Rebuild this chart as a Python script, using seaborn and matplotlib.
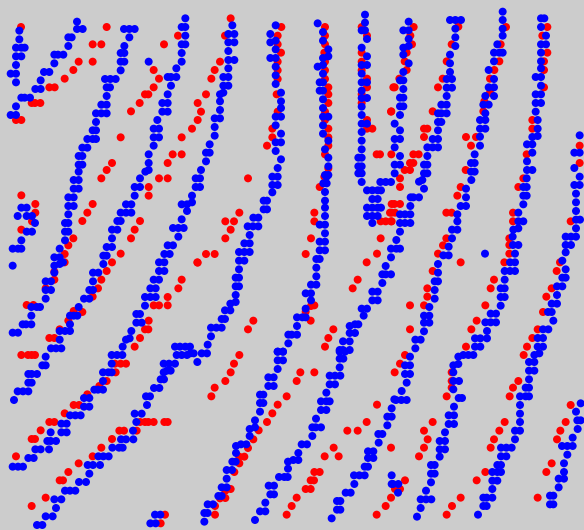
import matplotlib
matplotlib.use("Agg")
import matplotlib.pyplot as plt
import pandas as pd
import seaborn as sns

# Values, one table per picture tile (units: third of a pixel from tile origin)
BLUE_A = [(231,65),(231,87),(248,87),(58,92),(58,118),(48,143),(64,143),(74,143),(48,169),(64,169),(48,195),(32,221),(48,221),(48,247),
(205,112),(215,112),(205,138),(163,164),(174,164),(190,164),(163,190),(132,216),(148,216),(122,241),(106,267),(122,267),(64,293),(74,293),(90,293),(48,319),(32,345),(48,345),
(372,87),(388,87),(404,87),(388,112),(373,138),(362,159),(373,159),(362,185),(373,185),(362,211),(315,237),(331,237),(347,237),(320,262),(330,262),(320,288),(304,314),(320,314),(288,340),(304,340),(320,340),(288,366),(278,391),(288,391),(262,417),(278,417),(288,417),(247,443),(262,443),(236,468),(247,468),(236,494),(247,494),(236,515),
(556,55),(545,81),(556,81),(556,107),(545,133),(556,133),(545,159),(545,185),(529,205),(503,231),(513,231),(529,231),(513,257),(503,283),(487,309),(503,309),(487,335),(503,335),(472,360),(461,386),(477,386),(461,412),(477,412),(461,437),(446,463),(446,489),(446,510),(436,515),(446,185)]
RED_A = [(63,81),(320,81),(278,133),(304,133),(492,133),(534,107),(236,185),(278,185),(220,210),(194,236),(461,210),(477,236),(461,262),(435,283),(445,283),(419,309),(393,334),(148,262),(164,262),(95,309),(105,309),(121,309),(48,360),(64,360),(362,412),(576,386),(545,412),(518,463),(545,463),(503,489),(336,489),(320,510)]
BLUE_B = [(510,44),(510,68),(500,91),(510,91),(516,117),(500,143),(516,169),(500,195),(516,195),(500,221),(500,247),(516,247),(500,272),(500,294),(516,294),(500,320),(500,345),(500,371),(516,371),(500,396),(500,422),(500,448),(490,473),(500,473),(490,499),(500,499),(490,520),(500,520),
(368,70),(384,96),(384,122),(400,148),(384,174),(400,169),(368,200),(384,195),(384,221),(374,247),(384,247),(374,272),(384,272),(384,298),(384,324),(384,350),(400,350),(384,376),(384,401),(400,422),(390,448),(400,473),(400,499),(390,525),(400,525),
(242,76),(226,102),(242,122),(226,127),(242,148),(226,174),(242,174),(242,200),(242,226),(242,252),(258,278),(258,304),(258,324),(242,350),(258,350),(242,376),(258,401),(242,427),(258,427),(242,453),(258,478),(248,504),
(112,76),(100,102),(118,102),(100,127),(118,127),(100,153),(100,180),(118,180),(100,205),(85,231),(100,231),(85,257),(100,257),(75,283),(85,278),(75,304),(75,330),(59,355),(75,355),(59,381),(59,407),(44,433),(33,458),(44,458),(33,484),(18,510)]
RED_B = [(107,55),(90,107),(75,185),(59,210),(49,236),(33,283),(8,309),(18,335),(8,360),
(259,81),(248,107),(248,133),(258,158),(248,185),(248,211),(248,237),(245,283),(248,335),(232,386),(232,412),(216,437),
(390,81),(390,107),(390,133),(388,158),(390,185),(390,211),(390,237),(400,262),(400,283),(400,309),(390,335),(390,360),(400,386),(400,412),(400,437),(390,463),(390,530),(400,505),
(500,81),(516,107),(500,158),(500,185),(500,211),(516,236),(516,262),(500,283),(500,309),(516,360),(516,386),(532,386),(545,463),(555,463),(588,335),(595,262)]
BLUE_C = [(56,65),(40,91),(56,91),(56,117),(40,143),(56,138),(40,164),(56,190),(40,216),(30,241),(40,241),(40,267),(30,293),(40,293),(30,319),(40,319),(30,345),(14,371),(30,391),(14,417),(30,417),(14,442),(30,468),(14,494),(30,494),(14,520),
(180,60),(196,60),(213,60),(196,86),(196,112),(196,138),(180,164),(180,190),(180,216),(170,237),(186,237),(170,263),(186,263),(170,288),(154,314),(170,314),(144,340),(154,340),(170,340),(144,366),(154,366),(144,391),(128,417),(144,417),(112,442),(128,442),(144,442),(112,468),(102,494),(112,494),(102,520),(112,520),
(338,35),(338,60),(338,86),(338,107),(322,133),(312,158),(328,158),(338,158),(312,184),(296,210),(312,237),(296,262),(312,262),(286,288),(312,288),(280,314),(296,314),(286,340),(270,360),(286,360),(270,386),(286,386),(270,410),(270,437),(254,463),(243,489),(254,489),(243,515),(254,515),
(453,55),(463,55),(453,81),(468,107),(453,133),(468,133),(453,158),(453,184),(453,205),(437,231),(453,231),(453,257),(437,283),(453,283),(437,309),(453,309),(437,335),(443,360),(443,386),(427,411),(443,408),(427,433),(411,433),(427,458),(411,484),(411,510),(427,510),
(569,406),(553,458),(569,458),(553,504),(569,530)]
RED_C = [(71,81),(61,107),(66,133),(50,158),(44,184),(50,210),(28,236),(14,262),(4,334),(102,386),(112,386),(102,411),(70,463),(86,463),(4,463),(60,489),(70,489),(44,510),(60,510),
(205,80),(185,133),(170,184),(158,236),(144,262),(128,334),
(348,81),(332,133),(328,184),(313,210),(300,236),(300,278),(283,304),(280,334),(228,411),(258,411),(243,437),(227,510),
(472,81),(457,107),(472,158),(462,184),(462,210),(462,262),(427,360),(427,386),(410,463),
(569,437),(569,489)]
BLUE_D = [(221,15),(236,15),(221,41),(236,41),(205,67),(221,67),(205,93),(221,93),(205,118),(195,144),(205,144),(195,170),(205,170),(195,196),(179,221),(163,247),(179,247),(163,272),(179,267),(189,262),(163,293),(137,319),(153,319),(137,345),(153,345),(137,371),(94,396),(110,396),(120,396),(94,422),(68,448),(78,448),(94,448),(38,473),(54,473),
(64,98),(80,98),(53,123),(80,123),(96,123),(105,144),(80,170),(96,170),(64,196),(38,221),(54,221),(64,221),(38,272),
(420,10),(404,36),(420,36),(404,62),(378,88),(394,88),(362,113),(378,113),(394,113),(352,138),(362,138),(336,164),(352,164),(336,190),(320,216),(336,216),(310,242),(320,242),(310,267),(279,293),(295,293),(279,319),(268,345),(279,345),(252,371),(268,371),(236,396),(232,422),(221,422),(210,422),(210,448),(179,468),(195,468),(210,468),(179,494),(153,520),(168,520),(184,520),
(587,10),(587,36),(576,62),(545,88),(561,88),(576,82),(561,108),(545,133),(519,159),(535,159),(551,159),(535,185),(503,211),(519,211),(493,237),(509,237),(477,262),(493,262),(477,288),(493,288),(461,314),(477,314),(451,340),(467,340),(435,366),(451,366),(467,366),(435,392),(409,417),(420,417),(409,443),(425,443),(394,468),(378,494),(389,490),(368,515),
(525,515),(540,515),(556,515),(570,515)]
RED_D = [(64,61),(106,87),(106,113),(96,139),(64,164),(220,190),(205,211),(194,237),(194,262),(163,290),(163,314),(137,340),(80,390),(100,390),(278,87),(262,113),(247,138),(304,10),(477,10),(503,10),(446,36),(446,62),(420,138),(404,164),(393,190),(362,236),(336,262),(320,288),(304,314),(294,340),(278,365),(592,262),(545,314),(535,340),(503,366),(461,391),(477,391),(503,391),(446,437),(435,463),(445,463),(420,489),(404,515),(247,411),(221,408),(205,437),(179,463),(148,489),(163,489)]
BLUE_E = [(15,10),(15,36),(232,5),(248,5),(232,30),(248,30),(232,52),(206,77),(216,77),(206,103),(216,103),(175,128),(190,128),(158,154),(174,154),(190,154),(164,180),(148,205),(164,205),(132,231),(148,231),(164,231),(132,257),(148,257),(132,283),(122,308),(132,308),(122,334),(132,334),(122,360),(122,381),(106,386),(90,406),(106,406),(80,432),(90,432),(48,458),(64,458),(80,458),(48,484),(38,509),
(395,5),(385,25),(395,25),(390,51),(390,77),(390,98),(390,123),(374,149),(390,149),(390,175),(374,200),(390,200),(374,226),(390,226),(364,252),(374,252),(364,278),(364,304),(348,329),(364,329),(332,355),(348,355),(348,376),(332,401),(306,427),(322,427),(332,427),(306,453),(280,479),(290,479),(306,479),(280,505),(248,530),(264,530),
(500,21),(556,21),(572,21),(588,21),(516,46),(532,46),(548,46),(558,46),(532,72),(548,72),(516,98),(532,98),(548,98),(558,98),(516,123),(532,123),(548,123),(532,144),
(588,221),(588,247),(572,273),(562,298),(572,298),(588,298),(562,324),(532,350),(548,350),(532,376),(548,376),(500,401),(516,401),(506,422),(480,448),(490,448),(464,453),(464,474),(480,474),(444,499),(464,499),(434,525),(444,525),(464,525)]
RED_E = [(159,10),(133,113),(91,139),(117,139),(107,164),(91,190),(33,237),(59,237),(8,263),(388,5),(374,36),(358,113),(358,139),(348,190),(332,237),(590,87),(585,113),(557,139),(572,139),(588,139),(557,190),(546,236),(515,262),(488,314),(473,340),(358,391),(348,393),(332,410),(347,437),(175,437),(159,463),(415,463),(400,489),(390,515)]
BLUE_F = [(62,67),(70,67),(87,67),(102,41),(87,20),(97,15),(61,93),(30,118),(45,118),(61,118),(30,144),(45,144),(61,144),(30,170),(19,195),(19,221),(30,221),
(244,15),(228,41),(228,67),(212,93),(228,93),(202,118),(202,139),(186,164),(202,164),(186,190),(176,215),(160,241),(176,241),(144,267),(144,293),(134,319),(144,319),(134,345),(134,371),(118,396),(102,422),(118,422),(118,443),(102,443),(102,469),(76,494),(92,494),(76,520),
(410,10),(400,36),(410,36),(400,62),(410,62),(400,88),(385,113),(385,139),(400,139),(370,164),(385,160),(368,185),(369,210),(385,210),(375,236),(360,262),(375,262),(344,288),(360,288),(375,288),(344,314),(332,340),(344,340),(332,366),(344,366),(332,392),(302,416),(318,416),(286,442),(302,442),(318,442),(291,468),(291,490),(255,490),(271,490),(255,515),(271,515),
(553,30),(569,30),(558,56),(558,82),(558,108),(558,134),(570,134),(558,160),(527,185),(543,185),(558,185),(527,210),(543,210),(527,232),(517,257),(527,283),(517,308),(527,308),(501,334),(517,334),(501,360),(485,386),(501,386),(474,411),(485,411),(490,437),(459,463),(475,463),(443,489),(459,489),(443,515),(459,515),(285,236)]
RED_F = [(30,10),(30,36),(13,87),(30,87),(5,113),(15,113),(5,139),(212,36),(202,62),(169,113),(185,113),(169,190),(159,211),(144,236),(128,288),(212,262),(112,340),(112,365),(60,391),(102,391),(60,463),(400,10),(385,36),(369,113),(369,139),(358,190),(358,210),(358,236),(343,262),(312,314),(302,340),(286,391),(260,437),(244,463),(228,515),(510,262),(500,288),(542,139),(485,340),(469,365),(459,411),(443,463),(427,489),(411,515)]
BLUE_G = [(137,20),(127,46),(137,46),(85,72),(95,72),(111,72),(85,98),(95,98),(53,124),(69,124),(85,124),(42,150),
(335,15),(351,15),(367,15),(335,41),(309,67),(325,67),(335,67),(309,93),(283,119),(294,119),(309,119),(252,144),(268,144),(252,170),(268,170),(210,196),(226,196),(242,196),(184,221),(200,221),(184,247),(200,247),(152,247),(142,273),(152,273),(168,273),(106,298),(122,298),(147,298),(85,324),(101,324),(38,350),(54,350),(69,350),
(530,15),(545,15),(561,15),(571,10),(581,10),(592,36),(491,41),(507,41),(525,41),(491,67),(501,62),(512,62),(482,88),(492,88),(462,114),(478,114),(438,139),(450,139),(441,165),(404,191),(425,191),(409,216),(399,242),(363,268),(378,268),(400,268),(337,293),(357,293),(368,293),(295,319),(310,319),(326,319),(263,345),(279,345),(300,345),(268,371),(237,396),(258,396),(195,422),(210,422),(226,422),(163,448),(184,448),(168,474),(137,499),(158,499),(111,525),(127,525),
(465,494),(481,494),(451,520),(467,520)]
RED_G = [(64,15),(84,15),(95,15),(105,15),(345,41),(362,41),(378,41),(347,67),(320,93),(298,108),(262,133),(221,165),(237,165),(194,190),(148,216),(163,216),(122,241),(95,267),(105,267),(48,319),(372,242),(358,242),(410,242),(420,216),(435,216),(445,216),(461,216),(493,216),(503,216),(336,267),(304,293),(278,319),(236,340),(205,366),(179,391),(189,391),(137,443),(95,468),(495,494),(482,520)]
BLUE_H = [(20,10),(36,10),(248,5),(264,5),(248,31),(264,31),(248,57),(220,82),(236,82),(220,108),(236,108),(195,134),(205,134),(195,159),(205,159),(195,185),(180,211),(164,237),(180,232),(164,258),(123,288),(138,283),(154,283),(123,309),(112,335),(122,335),(95,360),(111,360),(95,386),(80,412),(95,412),(70,438),(80,438),(38,463),(54,463),(28,489),(38,489),(28,515),
(434,5),(450,5),(434,26),(445,26),(434,52),(404,77),(420,77),(436,77),(404,103),(420,103),(394,128),(378,154),(394,154),(404,154),(378,180),(394,180),(363,206),(352,232),(362,232),(378,232),(352,258),(320,283),(336,283),(310,309),(279,335),(295,330),(310,330),(279,356),(252,381),(268,381),(278,381),(221,407),(237,407),(226,433),(237,433),(211,458),(195,484),(211,484),(180,510),
(598,148),(590,175),(577,200),(590,200),(577,226),(550,252),(562,252),(551,278),(519,304),(535,304),(519,324),(535,324),(509,350),(519,350),(477,376),(493,376),(509,376),(478,402),(452,428),(467,428),(426,453),(436,453),(426,479),(436,479),(410,505),(590,376),(590,402)]
RED_H = [(133,15),(117,41),(107,67),(91,93),(59,113),(49,139),(316,67),(358,67),(305,93),(275,139),(248,164),(232,190),(216,216),(191,241),(175,268),(159,294),(133,320),(148,320),(133,340),(118,366),(107,417),(91,422),(91,444),(75,445),(60,468),(60,494),(358,366),(374,366),(347,391),(357,391),(332,417),(347,417),(305,443),(290,468),(275,494),(416,293),(389,319),(431,319),(457,242),(488,242),(515,216),(546,164),(545,494),(572,468),(588,443),(588,293)]
BLUE_I = [(60,20),(45,46),(60,46),(45,72),(60,72),(50,98),(35,123),(18,150),(34,150),(50,150),(25,402),(9,402),(24,428),
(205,20),(220,15),(235,15),(250,15),(190,46),(205,42),(190,67),(190,93),(207,93),(190,118),(206,144),(216,144),(192,170),(176,196),(192,196),(176,222),(192,222),(165,247),(149,273),(165,273),(149,298),(165,298),(149,320),(123,345),(134,345),(123,371),(134,371),(123,397),(108,422),(92,448),(108,448),(124,448),(92,474),(81,500),
(448,10),(433,15),(417,36),(433,36),(417,62),(433,62),(417,88),(407,113),(417,113),(390,139),(407,139),(417,139),(390,165),(390,191),(390,216),(375,242),(390,242),(375,268),(333,293),(349,293),(365,293),(333,319),(349,319),(322,345),(333,345),(322,366),(307,366),(333,366),(307,392),(322,392),(307,417),(280,443),(290,443),(307,443),(280,468),(290,468),(264,494),
(572,160),(558,185),(562,211),(572,211),(563,237),(548,263),(516,288),(532,288),(548,288),(532,314),(522,340),(522,366),(506,386),(522,386),(506,412),(480,437),(490,437),(480,463),(490,463)]
RED_I = [(45,15),(30,41),(14,67),(185,67),(185,93),(185,113),(170,139),(128,216),(102,242),(113,268),(102,293),(87,319),(45,391),(15,417),(30,417),(401,15),(385,93),(369,113),(359,139),(344,216),(328,242),(312,268),(302,293),(286,366),(260,391),(212,443),(186,468),(170,494),(542,165),(527,216),(511,242),(501,268),(485,340),(469,366),(443,443)]

TILES = {"A": (0, 0), "B": (195, 0), "C": (390, 0),
         "D": (0, 175), "E": (195, 175), "F": (390, 175),
         "G": (0, 350), "H": (195, 350), "I": (390, 350)}
RED = dict(A=RED_A, B=RED_B, C=RED_C, D=RED_D, E=RED_E, F=RED_F, G=RED_G, H=RED_H, I=RED_I)
BLUE = dict(A=BLUE_A, B=BLUE_B, C=BLUE_C, D=BLUE_D, E=BLUE_E, F=BLUE_F, G=BLUE_G, H=BLUE_H, I=BLUE_I)

rows = []
for name, table in (("red", RED), ("blue", BLUE)):
    for tile, pts in table.items():
        ox, oy = TILES[tile]
        rows += [(x / 3 + ox, y / 3 + oy, name) for x, y in pts]
df = pd.DataFrame(rows, columns=["x", "y", "series"])

sns.set_theme(style="white")
fig = plt.figure(figsize=(5.84, 5.30), dpi=100, facecolor="#CCCCCC")
ax = fig.add_axes([0, 0, 1, 1], facecolor="#CCCCCC")
sns.scatterplot(data=df, x="x", y="y", hue="series", palette={"red": "#FF0000", "blue": "#0000FF"},
                s=33, marker="o", linewidth=0, legend=False, ax=ax)
ax.set_xlim(0, 584)
ax.set_ylim(530, 0)
ax.set_axis_off()
fig.savefig("out.png", dpi=100, facecolor="#CCCCCC")
